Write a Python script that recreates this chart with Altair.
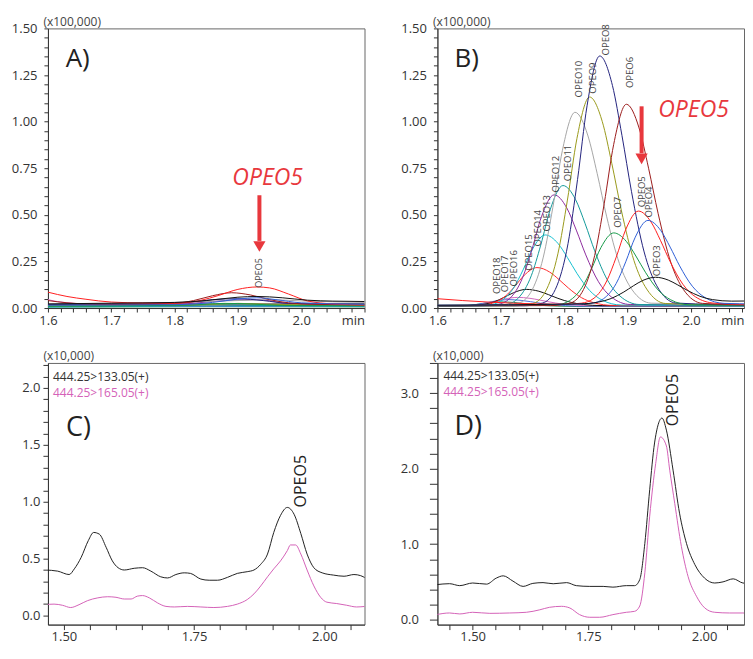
import altair as alt
import pandas as pd

FONT = "Open Sans"
RED = "#e8383d"

# ---------------- series names / colours ----------------
NAMES = ["OPEO18", "OPEO17", "OPEO16", "OPEO15", "OPEO14", "OPEO13", "OPEO12", "OPEO11",
         "OPEO10", "OPEO9", "OPEO8", "OPEO7", "OPEO6", "OPEO5", "OPEO4", "OPEO3"]
COLORS = ["#2e8b57", "#4a6fd8", "#d26ac0", "#111111", "#ff2b2b", "#14c0d0", "#8e2c9e", "#139a9a",
          "#a6a6a6", "#9a9a1c", "#24247e", "#169a48", "#9c1c1c", "#ff2020", "#2f5fd6", "#111111"]

# ---------------- Panel A (sample) ----------------
A_T = {
    "OPEO18": [1.60, 1.85, 2.10],
    "OPEO17": [1.60, 1.85, 2.10],
    "OPEO16": [1.60, 1.62, 1.70, 1.85, 2.10],
    "OPEO15": [1.60, 1.80, 2.10],
    "OPEO14": [1.60, 1.70, 1.85, 2.10],
    "OPEO13": [1.60, 1.75, 1.85, 2.10],
    "OPEO12": [1.60, 1.80, 1.88, 1.93, 1.98, 2.10],
    "OPEO11": [1.60, 1.80, 1.85, 1.90, 2.10],
    "OPEO10": [1.60, 1.80, 1.90, 1.95, 2.00, 2.10],
    "OPEO9": [1.60, 1.85, 1.90, 1.95, 2.10],
    "OPEO8": [1.60, 1.75, 1.82, 1.86, 1.90, 1.94, 1.98, 2.10],
    "OPEO7": [1.60, 1.82, 1.88, 1.92, 1.97, 2.10],
    "OPEO6": [1.60, 1.63, 1.68, 1.75, 1.80, 1.83, 1.86, 1.89, 1.92, 1.95, 1.98, 2.02, 2.10],
    "OPEO5": [1.60, 1.63, 1.66, 1.70, 1.75, 1.80, 1.84, 1.87, 1.90, 1.93, 1.95, 1.98, 2.01, 2.05, 2.10],
    "OPEO4": [1.60, 1.80, 1.86, 1.90, 1.93, 1.96, 2.00, 2.10],
    "OPEO3": [1.60, 1.70, 1.80, 1.85, 1.90, 1.93, 1.97, 2.01, 2.05, 2.10],
}
A_V = {
    "OPEO18": [0.005, 0.007, 0.006],
    "OPEO17": [0.007, 0.009, 0.008],
    "OPEO16": [0.045, 0.032, 0.016, 0.014, 0.012],
    "OPEO15": [0.018, 0.021, 0.022],
    "OPEO14": [0.012, 0.010, 0.014, 0.010],
    "OPEO13": [0.006, 0.009, 0.012, 0.008],
    "OPEO12": [0.015, 0.020, 0.040, 0.045, 0.025, 0.015],
    "OPEO11": [0.008, 0.012, 0.020, 0.015, 0.010],
    "OPEO10": [0.020, 0.030, 0.040, 0.045, 0.038, 0.030],
    "OPEO9": [0.012, 0.018, 0.025, 0.020, 0.014],
    "OPEO8": [0.020, 0.022, 0.030, 0.045, 0.050, 0.040, 0.025, 0.020],
    "OPEO7": [0.010, 0.015, 0.025, 0.022, 0.014, 0.012],
    "OPEO6": [0.040, 0.028, 0.020, 0.020, 0.025, 0.040, 0.066, 0.082, 0.070, 0.045, 0.028, 0.020, 0.017],
    "OPEO5": [0.085, 0.062, 0.047, 0.032, 0.027, 0.026, 0.040, 0.068, 0.100, 0.113, 0.108, 0.075, 0.038, 0.022, 0.016],
    "OPEO4": [0.015, 0.018, 0.030, 0.048, 0.055, 0.045, 0.028, 0.020],
    "OPEO3": [0.022, 0.026, 0.030, 0.040, 0.058, 0.062, 0.055, 0.042, 0.037, 0.035],
}

# ---------------- Panel B (standard) ----------------
B_T = {
    "OPEO18": [1.60, 1.63, 1.65, 1.665, 1.68, 1.70, 1.72, 1.735, 1.75, 1.77, 1.79, 1.82, 2.10],
    "OPEO17": [1.60, 1.622, 1.642, 1.662, 1.677, 1.692, 1.712, 1.732, 1.747, 1.762, 1.782, 1.802, 1.832, 2.10],
    "OPEO16": [1.60, 1.636, 1.656, 1.676, 1.691, 1.706, 1.726, 1.746, 1.761, 1.776, 1.796, 1.816, 1.846, 2.10],
    "OPEO15": [1.60, 1.62, 1.65, 1.67, 1.69, 1.705, 1.72, 1.74, 1.76, 1.775, 1.79, 1.81, 1.83, 1.86, 2.10],
    "OPEO14": [1.60, 1.637, 1.667, 1.687, 1.707, 1.722, 1.737, 1.757, 1.777, 1.792, 1.807, 1.827, 1.847, 1.877, 2.10],
    "OPEO13": [1.60, 1.65, 1.68, 1.70, 1.72, 1.735, 1.75, 1.77, 1.79, 1.805, 1.82, 1.84, 1.86, 1.89, 2.10],
    "OPEO12": [1.60, 1.664, 1.694, 1.714, 1.734, 1.749, 1.764, 1.784, 1.804, 1.819, 1.834, 1.854, 1.874, 1.904, 2.10],
    "OPEO11": [1.60, 1.678, 1.708, 1.728, 1.748, 1.763, 1.778, 1.798, 1.818, 1.833, 1.848, 1.868, 1.888, 1.918, 2.10],
    "OPEO10": [1.60, 1.697, 1.727, 1.747, 1.767, 1.782, 1.797, 1.817, 1.837, 1.852, 1.867, 1.887, 1.907, 1.937, 2.10],
    "OPEO9": [1.60, 1.72, 1.75, 1.77, 1.79, 1.805, 1.82, 1.84, 1.86, 1.875, 1.89, 1.91, 1.93, 1.96, 2.10],
    "OPEO8": [1.60, 1.736, 1.766, 1.786, 1.806, 1.821, 1.836, 1.856, 1.876, 1.891, 1.906, 1.926, 1.946, 1.976, 2.10],
    "OPEO7": [1.60, 1.758, 1.788, 1.808, 1.828, 1.843, 1.858, 1.878, 1.898, 1.913, 1.928, 1.948, 1.968, 1.998, 2.10],
    "OPEO6": [1.60, 1.778, 1.808, 1.828, 1.848, 1.863, 1.878, 1.898, 1.918, 1.933, 1.948, 1.968, 1.988, 2.018, 2.10],
    "OPEO5": [1.60, 1.64, 1.68, 1.72, 1.797, 1.827, 1.847, 1.867, 1.882, 1.897, 1.917, 1.937, 1.952, 1.967, 1.987, 2.007, 2.037, 2.10],
    "OPEO4": [1.60, 1.812, 1.842, 1.862, 1.882, 1.897, 1.912, 1.932, 1.952, 1.967, 1.982, 2.002, 2.022, 2.052, 2.10],
    "OPEO3": [1.60, 1.824, 1.854, 1.874, 1.894, 1.909, 1.924, 1.944, 1.964, 1.979, 1.994, 2.014, 2.034, 2.064, 2.10],
}
B_V = {
    "OPEO18": [0.008, 0.010, 0.014, 0.021, 0.028, 0.033, 0.030, 0.025, 0.019, 0.013, 0.010, 0.008, 0.008],
    "OPEO17": [0.010, 0.010, 0.012, 0.019, 0.028, 0.038, 0.045, 0.041, 0.034, 0.026, 0.018, 0.013, 0.010, 0.010],
    "OPEO16": [0.012, 0.012, 0.013, 0.023, 0.035, 0.048, 0.057, 0.052, 0.043, 0.033, 0.022, 0.016, 0.012, 0.010],
    "OPEO15": [0.012, 0.012, 0.013, 0.018, 0.034, 0.057, 0.082, 0.100, 0.090, 0.072, 0.052, 0.031, 0.019, 0.013, 0.012],
    "OPEO14": [0.012, 0.012, 0.014, 0.026, 0.063, 0.116, 0.176, 0.217, 0.193, 0.152, 0.106, 0.056, 0.028, 0.014, 0.012],
    "OPEO13": [0.012, 0.012, 0.016, 0.037, 0.107, 0.204, 0.316, 0.392, 0.347, 0.271, 0.186, 0.094, 0.042, 0.016, 0.010],
    "OPEO12": [0.012, 0.012, 0.019, 0.051, 0.160, 0.313, 0.489, 0.607, 0.537, 0.418, 0.285, 0.141, 0.060, 0.019, 0.014],
    "OPEO11": [0.012, 0.012, 0.019, 0.055, 0.173, 0.338, 0.529, 0.657, 0.581, 0.452, 0.307, 0.151, 0.064, 0.019, 0.013],
    "OPEO10": [0.015, 0.015, 0.026, 0.083, 0.273, 0.539, 0.844, 1.050, 0.928, 0.721, 0.489, 0.239, 0.098, 0.026, 0.018],
    "OPEO9": [0.012, 0.012, 0.024, 0.086, 0.291, 0.579, 0.909, 1.132, 1.000, 0.776, 0.525, 0.254, 0.102, 0.024, 0.015],
    "OPEO8": [0.012, 0.012, 0.027, 0.100, 0.346, 0.690, 1.085, 1.352, 1.194, 0.926, 0.626, 0.301, 0.119, 0.027, 0.014],
    "OPEO7": [0.013, 0.013, 0.017, 0.039, 0.110, 0.210, 0.325, 0.403, 0.357, 0.279, 0.192, 0.097, 0.044, 0.017, 0.015],
    "OPEO6": [0.013, 0.013, 0.025, 0.084, 0.282, 0.559, 0.878, 1.093, 0.966, 0.750, 0.508, 0.246, 0.099, 0.025, 0.016],
    "OPEO5": [0.050, 0.040, 0.032, 0.026, 0.020, 0.026, 0.053, 0.145, 0.273, 0.421, 0.520, 0.461, 0.361, 0.249, 0.128, 0.060, 0.026, 0.018],
    "OPEO4": [0.015, 0.020, 0.025, 0.050, 0.132, 0.248, 0.380, 0.470, 0.417, 0.327, 0.226, 0.117, 0.056, 0.025, 0.022],
    "OPEO3": [0.015, 0.022, 0.032, 0.051, 0.086, 0.119, 0.148, 0.165, 0.150, 0.124, 0.095, 0.063, 0.045, 0.037, 0.038],
}
# peak labels in panel B: time, intensity at label foot (same order as NAMES)
B_LABEL_T = [1.694, 1.707, 1.721, 1.744, 1.758, 1.773, 1.787, 1.806, 1.823, 1.845, 1.866, 1.885, 1.904, 1.922, 1.933, 1.947]
B_LABEL_V = [0.075, 0.085, 0.115, 0.20, 0.33, 0.41, 0.62, 0.68, 1.13, 1.15, 1.355, 0.43, 1.18, 0.54, 0.485, 0.17]

# ---------------- Panel C (sample, MRM) ----------------
C_BLACK_T = [1.464, 1.488, 1.510, 1.520, 1.533, 1.547, 1.557, 1.568, 1.581, 1.593, 1.604, 1.616, 1.635, 1.651,
             1.667, 1.686, 1.699, 1.715, 1.731, 1.743, 1.763, 1.779, 1.795, 1.814, 1.833, 1.852, 1.865, 1.878,
             1.891, 1.903, 1.916, 1.929, 1.942, 1.955, 1.967, 1.980, 1.996, 2.018, 2.038, 2.057, 2.070, 2.079]
C_BLACK_V = [0.40, 0.39, 0.36, 0.41, 0.51, 0.66, 0.73, 0.715, 0.60, 0.48, 0.42, 0.40, 0.415, 0.42,
             0.39, 0.34, 0.33, 0.36, 0.375, 0.37, 0.32, 0.31, 0.31, 0.335, 0.37, 0.385, 0.40, 0.45,
             0.54, 0.73, 0.88, 0.95, 0.89, 0.72, 0.54, 0.42, 0.375, 0.355, 0.345, 0.36, 0.35, 0.33]
C_PINK_T = [1.464, 1.481, 1.497, 1.513, 1.529, 1.545, 1.565, 1.584, 1.600, 1.616, 1.629, 1.641, 1.651, 1.664,
            1.680, 1.696, 1.712, 1.737, 1.763, 1.788, 1.814, 1.833, 1.852, 1.865, 1.878, 1.891, 1.903, 1.916,
            1.929, 1.935, 1.945, 1.955, 1.967, 1.980, 1.993, 2.005, 2.024, 2.043, 2.062, 2.079]
C_PINK_V = [0.095, 0.10, 0.09, 0.07, 0.095, 0.13, 0.155, 0.165, 0.16, 0.145, 0.145, 0.17, 0.175, 0.155,
            0.11, 0.08, 0.075, 0.08, 0.075, 0.07, 0.08, 0.10, 0.14, 0.19, 0.26, 0.34, 0.41, 0.48,
            0.57, 0.62, 0.62, 0.54, 0.40, 0.26, 0.16, 0.117, 0.105, 0.09, 0.075, 0.08]

# ---------------- Panel D (standard, MRM) ----------------
D_BLACK_T = [1.4215, 1.450, 1.472, 1.500, 1.530, 1.551, 1.566, 1.587, 1.609, 1.630, 1.652, 1.674, 1.703, 1.724,
             1.753, 1.782, 1.803, 1.832, 1.850, 1.861, 1.872, 1.8825, 1.893, 1.909, 1.9186, 1.933, 1.947, 1.962,
             1.980, 2.001, 2.023, 2.041, 2.063, 2.084, 2.106]
D_BLACK_V = [0.463, 0.476, 0.45, 0.485, 0.47, 0.55, 0.58, 0.51, 0.44, 0.48, 0.49, 0.475, 0.49, 0.45,
             0.44, 0.44, 0.43, 0.45, 0.45, 0.53, 1.01, 1.72, 2.34, 2.67, 2.51, 1.98, 1.41, 1.01,
             0.73, 0.55, 0.485, 0.50, 0.54, 0.485, 0.475]
D_PINK_T = [1.4215, 1.450, 1.472, 1.500, 1.537, 1.58, 1.616, 1.645, 1.666, 1.692, 1.710, 1.731, 1.753, 1.7745,
            1.803, 1.832, 1.850, 1.861, 1.872, 1.8825, 1.8955, 1.9057, 1.9186, 1.9258, 1.9366, 1.951, 1.9655,
            1.9835, 2.0014, 2.023, 2.055, 2.084, 2.106]
D_PINK_V = [0.066, 0.088, 0.075, 0.097, 0.083, 0.088, 0.097, 0.13, 0.163, 0.176, 0.154, 0.066, 0.031, 0.031,
            0.066, 0.097, 0.11, 0.18, 0.62, 1.37, 2.07, 2.42, 2.30, 1.98, 1.54, 0.97, 0.57,
            0.31, 0.155, 0.097, 0.088, 0.088, 0.06]

MRM_NAMES = ["444.25>133.05(+)", "444.25>165.05(+)"]
BLACK_MRM = "#222222"
PINK_MRM = "#d462b8"


def ticks(start, stop, step):
    n = int(round((stop - start) / step))
    return [round(start + i * step, 4) for i in range(n + 1)]


def is_mult(k):
    return f"abs(datum.value*{k} - round(datum.value*{k})) < 1e-6"


def curves_df(T, V, names):
    rows = []
    for n in names:
        for t, v in zip(T[n], V[n]):
            rows.append({"series": n, "t": t, "v": v})
    return pd.DataFrame(rows)


def axis_x_ab(tick_stop, title_x):
    return alt.Axis(values=ticks(1.6, tick_stop, 0.02),
                    labelExpr=f"({is_mult(10)} && datum.value < 2.05) ? format(datum.value, '.1f') : ''",
                    tickSize=4, labelPadding=2, labelOverlap=False, labelFlush=False,
                    title="min", titleX=title_x, titleY=6, titleAlign="right", titleBaseline="top",
                    titleFontSize=13, titleColor="#333")


def axis_y_ab():
    return alt.Axis(values=ticks(0, 1.5, 0.05),
                    labelExpr=f"{is_mult(4)} ? format(datum.value, '.2f') : ''",
                    tickSize=4, labelPadding=7, labelOverlap=False, labelFlush=False,
                    title="(x100,000)", titleAngle=0, titleAlign="left", titleBaseline="alphabetic",
                    titleX=-5, titleY=-3)


def axis_x_cd(start, stop):
    return alt.Axis(values=ticks(start, stop, 0.05),
                    labelExpr=f"{is_mult(4)} ? format(datum.value, '.2f') : ''",
                    tickSize=5, labelPadding=1, labelOverlap=False, labelFlush=False, title=None)


def axis_y_cd(step, major, ymin, ymax, tick, pad):
    return alt.Axis(values=ticks(ymin, ymax, step),
                    labelExpr=f"{is_mult(major)} ? format(datum.value, '.1f') : ''",
                    tickSize=tick, labelPadding=pad, labelOverlap=False, labelFlush=False,
                    title="(x10,000)", titleAngle=0, titleAlign="left", titleBaseline="alphabetic",
                    titleX=-5, titleY=-3)


def text_layer(df, X, Y, **kw):
    return alt.Chart(df).mark_text(font=FONT, **kw).encode(x=X, y=Y, text="label:N")


def arrow_layers(X, Y, t, v_top, v_bottom, v_head):
    shaft = alt.Chart(pd.DataFrame({"t": [t], "v": [v_top], "v2": [v_bottom]})).mark_rule(
        color=RED, strokeWidth=4).encode(x=X, y=Y, y2="v2:Q")
    head = alt.Chart(pd.DataFrame({"t": [t], "v": [v_head]})).mark_point(
        shape="triangle-down", filled=True, size=150, color=RED, opacity=1).encode(x=X, y=Y)
    return [shaft, head]


def single_line(ts, vs, X, Y, color):
    return alt.Chart(pd.DataFrame({"t": ts, "v": vs})).mark_line(
        strokeWidth=1, interpolate="monotone", clip=True, color=color).encode(x=X, y=Y)


# ---------------- build panels ----------------
W_A, W_B, H_AB = 317, 307, 280
W_C, W_D, H_CD = 317, 307, 262

color_ab = alt.Color("series:N", scale=alt.Scale(domain=NAMES, range=COLORS), legend=None)

# Panel A
XA = alt.X("t:Q", scale=alt.Scale(domain=[1.6, 2.1], nice=False, zero=False), axis=axis_x_ab(2.1, W_A))
YA = alt.Y("v:Q", scale=alt.Scale(domain=[0, 1.5], nice=False, zero=False), axis=axis_y_ab())
a_lines = alt.Chart(curves_df(A_T, A_V, NAMES)).mark_line(
    strokeWidth=1, interpolate="monotone", clip=True).encode(x=XA, y=YA, color=color_ab)
a_layers = [a_lines,
            text_layer(pd.DataFrame({"t": [1.628], "v": [1.337], "label": ["A)"]}), XA, YA,
                       fontSize=26, align="left", baseline="middle", color="#222"),
            text_layer(pd.DataFrame({"t": [1.947], "v": [0.70], "label": ["OPEO5"]}), XA, YA,
                       fontSize=23, fontStyle="italic", align="center", baseline="middle", color=RED),
            text_layer(pd.DataFrame({"t": [1.934], "v": [0.109], "label": ["OPEO5"]}), XA, YA,
                       fontSize=9, angle=270, align="left", baseline="middle", color="#444"),
            ] + arrow_layers(XA, YA, 1.934, 0.605, 0.36, 0.33)
panel_a = alt.layer(*a_layers).properties(width=W_A, height=H_AB)

# Panel B (runs to the page edge, as in the original)
XB = alt.X("t:Q", scale=alt.Scale(domain=[1.6, 2.0835], nice=False, zero=False), axis=axis_x_ab(2.08, W_B))
YB = alt.Y("v:Q", scale=alt.Scale(domain=[0, 1.5], nice=False, zero=False), axis=axis_y_ab())
b_lines = alt.Chart(curves_df(B_T, B_V, NAMES)).mark_line(
    strokeWidth=1, interpolate="monotone", clip=True).encode(x=XB, y=YB, color=color_ab)
b_layers = [b_lines,
            text_layer(pd.DataFrame({"t": B_LABEL_T, "v": B_LABEL_V, "label": NAMES}), XB, YB,
                       fontSize=9.5, angle=270, align="left", baseline="middle", color="#444"),
            text_layer(pd.DataFrame({"t": [1.627], "v": [1.337], "label": ["B)"]}), XB, YB,
                       fontSize=26, align="left", baseline="middle", color="#222"),
            text_layer(pd.DataFrame({"t": [2.004], "v": [1.06], "label": ["OPEO5"]}), XB, YB,
                       fontSize=23, fontStyle="italic", align="center", baseline="middle", color=RED),
            ] + arrow_layers(XB, YB, 1.922, 1.082, 0.83, 0.80)
panel_b = alt.layer(*b_layers).properties(width=W_B, height=H_AB)

# Panel C
XC = alt.X("t:Q", scale=alt.Scale(domain=[1.4693, 2.0773], nice=False, zero=False), axis=axis_x_cd(1.50, 2.05))
YC = alt.Y("v:Q", scale=alt.Scale(domain=[-0.08, 2.22], nice=False, zero=False),
           axis=axis_y_cd(0.1, 2, 0.0, 2.2, 5, 3))
c_layers = [single_line(C_PINK_T, C_PINK_V, XC, YC, PINK_MRM),
            single_line(C_BLACK_T, C_BLACK_V, XC, YC, BLACK_MRM),
            text_layer(pd.DataFrame({"t": [1.479], "v": [2.098], "label": [MRM_NAMES[0]]}), XC, YC,
                       fontSize=12, align="left", baseline="middle", color="#333"),
            text_layer(pd.DataFrame({"t": [1.479], "v": [1.955], "label": [MRM_NAMES[1]]}), XC, YC,
                       fontSize=12, align="left", baseline="middle", color=PINK_MRM),
            text_layer(pd.DataFrame({"t": [1.504], "v": [1.65], "label": ["C)"]}), XC, YC,
                       fontSize=27, align="left", baseline="middle", color="#222"),
            text_layer(pd.DataFrame({"t": [1.9545], "v": [0.95], "label": ["OPEO5"]}), XC, YC,
                       fontSize=16, angle=270, align="left", baseline="middle", color="#222"),
            ]
panel_c = alt.layer(*c_layers).properties(width=W_C, height=H_CD)

# Panel D
XD = alt.X("t:Q", scale=alt.Scale(domain=[1.4238, 2.0863], nice=False, zero=False), axis=axis_x_cd(1.45, 2.05))
YD = alt.Y("v:Q", scale=alt.Scale(domain=[-0.066, 3.40], nice=False, zero=False),
           axis=axis_y_cd(0.2, 1, 0.0, 3.4, 8, 11))
d_layers = [single_line(D_PINK_T, D_PINK_V, XD, YD, PINK_MRM),
            single_line(D_BLACK_T, D_BLACK_V, XD, YD, BLACK_MRM),
            text_layer(pd.DataFrame({"t": [1.4367], "v": [3.23], "label": [MRM_NAMES[0]]}), XD, YD,
                       fontSize=12, align="left", baseline="middle", color="#333"),
            text_layer(pd.DataFrame({"t": [1.4367], "v": [3.015], "label": [MRM_NAMES[1]]}), XD, YD,
                       fontSize=12, align="left", baseline="middle", color=PINK_MRM),
            text_layer(pd.DataFrame({"t": [1.4605], "v": [2.546], "label": ["D)"]}), XD, YD,
                       fontSize=27, align="left", baseline="middle", color="#222"),
            text_layer(pd.DataFrame({"t": [1.933], "v": [2.56], "label": ["OPEO5"]}), XD, YD,
                       fontSize=16, angle=270, align="left", baseline="middle", color="#222"),
            ]
panel_d = alt.layer(*d_layers).properties(width=W_D, height=H_CD)

chart = alt.concat(panel_a, panel_b, panel_c, panel_d, columns=2,
                   spacing={"row": 55, "column": 73}, bounds="flush").resolve_scale(
    x="independent", y="independent", color="independent"
).properties(
    padding={"left": 2, "top": 6, "right": 0, "bottom": 0}
).configure_view(stroke="#666", strokeWidth=1).configure_axis(
    labelFont=FONT, labelFontSize=13, labelColor="#333",
    domainColor="#333", tickColor="#333", grid=False,
    titleFont=FONT, titleFontSize=12, titleFontWeight="normal", titleColor="#444",
)

chart.save("out.html", embed_options={"renderer": "svg", "actions": False})
